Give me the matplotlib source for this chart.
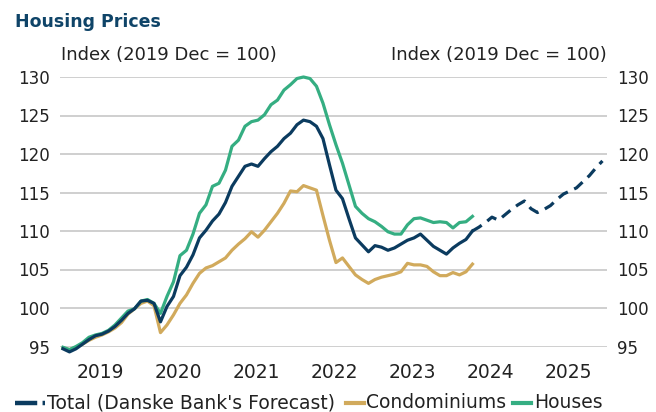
import matplotlib
matplotlib.use("Agg")
import matplotlib.pyplot as plt
from matplotlib.lines import Line2D
import numpy as np

plt.rcParams['font.family'] = ['DejaVu Sans']

# Monthly data, Jan 2019 .. Apr 2024 (index 2019 Dec = 100)
total = [94.7, 94.3, 94.7, 95.3, 95.9, 96.4, 96.6, 97.0, 97.6, 98.4, 99.3, 99.9,
         100.9, 101.0, 100.6, 98.2, 100.2, 101.5, 104.2, 105.3, 106.9, 109.1, 110.1, 111.3,
         112.2, 113.7, 115.8, 117.1, 118.4, 118.7, 118.4, 119.4, 120.3, 121.0, 122.0, 122.7,
         123.8, 124.4, 124.2, 123.6, 122.0, 118.6, 115.3, 114.2, 111.6, 109.1, 108.2, 107.3,
         108.1, 107.9, 107.5, 107.8, 108.3, 108.8, 109.1, 109.6, 108.8, 108.0, 107.5, 107.0,
         107.8, 108.4, 108.9, 110.0]
houses = [94.9, 94.6, 95.0, 95.5, 96.2, 96.5, 96.7, 97.1, 97.8, 98.7, 99.6, 99.9,
          100.9, 101.1, 100.6, 99.3, 101.5, 103.4, 106.8, 107.5, 109.6, 112.3, 113.4, 115.8,
          116.2, 117.9, 121.0, 121.8, 123.6, 124.2, 124.4, 125.1, 126.4, 127.0, 128.3, 129.0,
          129.8, 130.0, 129.8, 128.8, 126.6, 123.8, 121.2, 118.8, 116.0, 113.2, 112.3, 111.6,
          111.2, 110.6, 109.9, 109.6, 109.6, 110.8, 111.6, 111.7, 111.4, 111.1, 111.2, 111.1,
          110.4, 111.1, 111.2, 111.9]
condos = [94.8, 94.6, 94.9, 95.3, 95.8, 96.2, 96.5, 96.9, 97.4, 98.1, 99.2, 99.9,
          100.6, 100.9, 100.3, 96.8, 97.8, 99.1, 100.6, 101.7, 103.2, 104.5, 105.2, 105.5,
          106.0, 106.5, 107.5, 108.3, 109.0, 109.9, 109.2, 110.1, 111.2, 112.3, 113.6, 115.2,
          115.1, 115.9, 115.6, 115.3, 112.0, 108.8, 105.9, 106.5, 105.4, 104.3, 103.7, 103.2,
          103.7, 104.0, 104.2, 104.4, 104.7, 105.8, 105.6, 105.6, 105.4, 104.7, 104.2, 104.2,
          104.6, 104.3, 104.7, 105.7]
# Forecast, Apr 2024 .. Dec 2025
forecast = [110.0, 110.5, 111.1, 111.8, 111.4, 112.1, 112.8, 113.4, 113.9, 112.9, 112.4,
            112.8, 113.3, 114.1, 114.8, 115.2, 115.6, 116.4, 117.2, 118.2, 119.1]
years = ["2019", "2020", "2021", "2022", "2023", "2024", "2025"]
yticks = [95, 100, 105, 110, 115, 120, 125, 130]
legend_labels = ["Total (Danske Bank's Forecast)", "Condominiums", "Houses"]

NAVY = "#0b3b5f"
GOLD = "#d1aa5c"
GREEN = "#35ae82"
TXT = "#222222"
W, H = 656, 412

fig = plt.figure(figsize=(6.56, 4.12), dpi=100)
ax = fig.add_axes([60/W, 1-346.5/H, (607-60)/W, (346.5-77)/H])

m_act = np.arange(len(total))
m_fc = np.arange(len(total) - 1, len(total) - 1 + len(forecast))

lw = 2.3
ax.plot(m_act, condos, color=GOLD, lw=lw, solid_joinstyle='round', zorder=3, clip_on=False)
ax.plot(m_act, houses, color=GREEN, lw=lw, solid_joinstyle='round', zorder=3, clip_on=False)
ax.plot(m_act, total, color=NAVY, lw=lw, solid_joinstyle='round', zorder=4, clip_on=False)
ax.plot(m_fc, forecast, color=NAVY, lw=lw, linestyle=(0, (3.4, 2.2)), zorder=4, clip_on=False)

ax.set_xlim(-0.46, 83.7)
ax.set_ylim(95, 130)
ax.set_yticks(yticks)
ax.set_xticks([5.7 + 12 * i for i in range(len(years))])
ax.set_xticklabels(years)
ax.grid(axis='y', color='#cccccc', lw=1.3)
ax.set_axisbelow(True)
for s in ax.spines.values():
    s.set_visible(False)
ax.tick_params(axis='both', length=0, colors=TXT)
ax.tick_params(axis='x', pad=12, labelsize=13.5)
ax.tick_params(axis='y', labelsize=12, labelleft=True, labelright=True)
for t in ax.get_yticklabels():
    pass
ax.yaxis.set_tick_params(which='major', pad=7.5)

fig.text(15/W, 1-22/H, "Housing Prices", fontsize=12.5, fontweight='bold',
         color="#0f4468", va='center', ha='left')
fig.text(61/W, 1-55/H, "Index (2019 Dec = 100)", fontsize=13, color=TXT,
         va='center', ha='left')
fig.text(607/W, 1-55/H, "Index (2019 Dec = 100)", fontsize=13, color=TXT,
         va='center', ha='right')

# legend (drawn manually to match spacing)
ly = 1 - 403/H
fig.add_artist(Line2D([15/W, 45/W], [ly, ly], transform=fig.transFigure, color=NAVY,
                      lw=3.2, linestyle=(0, (5.0, 1.2))))
fig.add_artist(Line2D([346/W, 364/W], [ly, ly], transform=fig.transFigure, color=GOLD, lw=3.0))
fig.add_artist(Line2D([513/W, 531/W], [ly, ly], transform=fig.transFigure, color=GREEN, lw=3.0))
for xpx, lab in zip([47, 366, 534], legend_labels):
    fig.text(xpx/W, ly, lab, fontsize=13.5, color=TXT, va='center', ha='left')

fig.savefig("out.png", dpi=100)
